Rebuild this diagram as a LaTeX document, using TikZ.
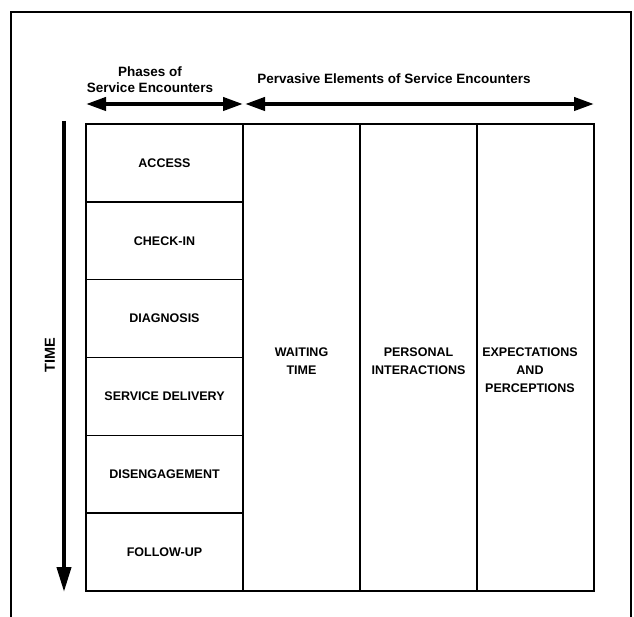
\documentclass[tikz,border=0pt]{standalone}
\usepackage{fontspec}
\setmainfont{Liberation Sans}
\usetikzlibrary{arrows.meta}
\begin{document}
\begin{tikzpicture}[x=1pt, y=-1pt, line width=1.6pt,
phase node/.style={rectangle,draw,minimum width=157pt,minimum height=77.8pt,inner sep=0pt,font=\bfseries\fontsize{12.5}{18}\selectfont},
element node/.style={rectangle,draw,minimum width=117pt,minimum height=467pt,inner sep=0pt},
label node/.style={anchor=north,align=center,inner sep=0pt,font=\bfseries\fontsize{12.5}{18}\selectfont},
head node/.style={align=center,inner sep=0pt,font=\bfseries\fontsize{13.5}{16}\selectfont},
big arrow/.style={line width=4pt,{Triangle[length=20pt,width=13pt]}-{Triangle[length=20pt,width=13pt]}},
time arrow/.style={line width=4pt,-{Triangle[length=25pt,width=14pt]}}]
\useasboundingbox (0,0) rectangle (634,617);
\draw[line width=1.5pt] (11,617) |- (631,12) -- (631,617);
\begin{scope}
\node[phase node] (access) at (164.5,162.9) {ACCESS};
\node[phase node] (checkin) at (164.5,240.7) {CHECK-IN};
\node[phase node] (diagnosis) at (164.5,318.5) {DIAGNOSIS};
\node[phase node] (delivery) at (164.5,396.4) {SERVICE DELIVERY};
\node[phase node] (disengage) at (164.5,474.2) {DISENGAGEMENT};
\node[phase node] (followup) at (164.5,552.1) {FOLLOW-UP};
\node[element node] (waiting) at (301.5,357.5) {};
\node[element node] (personal) at (418.5,357.5) {};
\node[element node] (expect) at (535.5,357.5) {};
%\node[phase node] () at (,) {};
\end{scope}
\begin{scope}
\node[label node] at (301.5,347) {WAITING\\TIME};
\node[label node] at (418.5,347) {PERSONAL\\INTERACTIONS};
\node[label node] at (530,347) {EXPECTATIONS\\AND\\PERCEPTIONS};
\node[head node] (phases) at (150,79.5) {Phases of\\Service Encounters};
\node[head node] (pervasive) at (394,79) {Pervasive Elements of Service Encounters};
\node[rotate=90,font=\bfseries\fontsize{14.5}{16}\selectfont] (time) at (50,355) {TIME};
\end{scope}
\begin{scope}
\coordinate (p1) at (86,104);
\coordinate (p2) at (243,104);
\coordinate (e1) at (245,104);
\coordinate (e2) at (594,104);
\coordinate (t1) at (64,121);
\coordinate (t2) at (64,592);
\draw[big arrow] (p1) -- (p2);
\draw[big arrow] (e1) -- (e2);
\draw[time arrow] (t1) -- (t2);
%\draw (a) -- (b);
\end{scope}
\end{tikzpicture}
\end{document}
